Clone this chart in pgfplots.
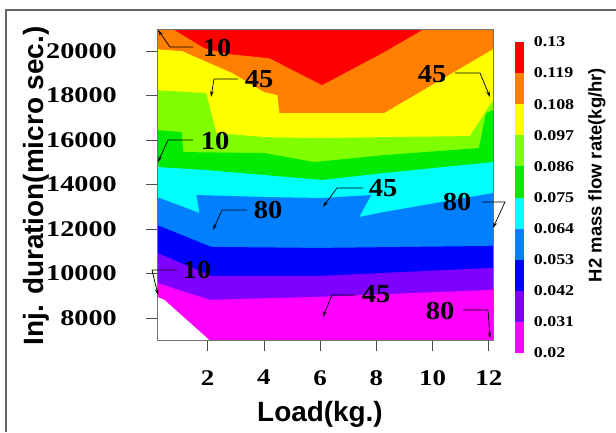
\documentclass[border=0pt]{standalone}
\usepackage{fontspec}
\setmainfont{Liberation Serif}
\setsansfont{Liberation Sans}
\usepackage{pgfplots}
\pgfplotsset{compat=1.18}
\usetikzlibrary{arrows.meta}

\definecolor{cRed}{RGB}{255,0,0}
\definecolor{cOrange}{RGB}{255,128,0}
\definecolor{cYellow}{RGB}{255,255,0}
\definecolor{cLime}{RGB}{128,255,0}
\definecolor{cGreen}{RGB}{0,235,0}
\definecolor{cCyan}{RGB}{0,255,255}
\definecolor{cAzure}{RGB}{0,128,255}
\definecolor{cBlue}{RGB}{0,0,255}
\definecolor{cViolet}{RGB}{128,0,255}
\definecolor{cMagenta}{RGB}{255,0,255}

\begin{document}
\begin{tikzpicture}[x=1bp,y=-1bp]
\path[use as bounding box] (0,0) rectangle (616,432);
\draw[line width=1.4bp, draw=black!60] (6,432) -- (6,10) -- (616,10);

\begin{axis}[
  at={(157bp,-340bp)}, anchor=south west,
  scale only axis, width=336bp, height=311bp,
  xmin=0.2, xmax=12.15, ymin=7000, ymax=21000,
  scaled ticks=false,
  axis on top,
  axis line style={draw=black!55, line width=0.6bp},
  tick align=outside, major tick length=11bp,
  tick style={draw=black!70, line width=0.6bp},
  xtick={2,4,6,8,10,12}, xticklabels={2,4,6,8,10,12},
  ytick={8000,10000,12000,14000,16000,18000,20000},
  yticklabels={8000,10000,12000,14000,16000,18000,20000},
  xtick pos=bottom, ytick pos=left,
  /pgf/number format/assume math mode=true,
  xticklabel style={font=\bfseries\fontsize{22.5}{22.5}\selectfont, xscale=1.2, anchor=north, inner sep=0pt, yshift=-19bp},
  yticklabel style={font=\bfseries\fontsize{22.5}{22.5}\selectfont, anchor=east, inner sep=0pt, xshift=-29bp, xscale=1.26},
]
% red band (top, 0.119-0.13): whole field
\addplot[fill=cRed, draw=none] coordinates {(0.2,7000) (12.15,7000) (12.15,21000) (0.2,21000)};
% below 0.119 : orange
\addplot[fill=cOrange, draw=none] coordinates {(0.2,21000) (0.75,21000) (1.88,20134) (2.77,19864) (4.19,19684) (6.07,18471) (8.28,19954) (9.70,21000) (12.15,21000) (12.15,7000) (0.2,7000)};
% below 0.108 : yellow
\addplot[fill=cYellow, draw=none] coordinates {(0.2,20089) (1.10,19999) (2.88,19010) (4.01,18156) (4.48,18022) (4.55,17213) (8.28,17213) (12.15,20089) (12.15,7000) (0.2,7000)};
% below 0.097 : lime
\addplot[fill=cLime, draw=none] coordinates {(0.2,18246) (1.95,18112) (2.31,16314) (4.01,16134) (5.97,16089) (8.28,16134) (11.33,16179) (12.15,17797) (12.15,7000) (0.2,7000)};
% below 0.086 : green
\addplot[fill=cGreen, draw=none] coordinates {(0.2,16449) (1.07,16359) (1.14,15460) (4.01,15415) (5.79,15011) (8.28,15325) (11.65,15640) (11.90,17213) (12.15,17348) (12.15,7000) (0.2,7000)};
% below 0.075 : cyan
\addplot[fill=cCyan, draw=none] coordinates {(0.2,14786) (1.95,14651) (4.01,14426) (6.07,14202) (8.28,14516) (12.15,15011) (12.15,7000) (0.2,7000)};
% below 0.064 : azure
\addplot[fill=cAzure, draw=none] coordinates {(0.2,13438) (1.71,12719) (1.60,13528) (4.01,13438) (6.07,13393) (7.82,13528) (7.39,12539) (8.28,12764) (12.15,13618) (12.15,7000) (0.2,7000)};
% below 0.053 : blue
\addplot[fill=cBlue, draw=none] coordinates {(0.2,12179) (2.13,11191) (5.97,11146) (12.15,11236) (12.15,7000) (0.2,7000)};
% below 0.042 : violet
\addplot[fill=cViolet, draw=none] coordinates {(0.2,10921) (2.13,9887) (5.97,9887) (12.15,10247) (12.15,7000) (0.2,7000)};
% below 0.031 : magenta
\addplot[fill=cMagenta, draw=none] coordinates {(0.2,9573) (2.06,8809) (5.97,8944) (12.15,9258) (12.15,7000) (0.2,7000)};
% below 0.02 : empty
\addplot[fill=white, draw=none] coordinates {(0.2,8944) (0.46,8809) (2.06,7000) (0.2,7000)};
\end{axis}

% colour key
\begin{axis}[
  at={(515bp,-353bp)}, anchor=south west,
  scale only axis, width=9bp, height=311bp,
  xmin=0, xmax=1, ymin=0.02, ymax=0.13,
  hide x axis, axis y line*=right,
  y axis line style={draw=none}, ytick style={draw=none},
  ytick={0.02,0.031,0.042,0.053,0.064,0.075,0.086,0.097,0.108,0.119,0.13},
  yticklabels={0.02,0.031,0.042,0.053,0.064,0.075,0.086,0.097,0.108,0.119,0.13},
  yticklabel style={font=\bfseries\fontsize{15}{15}\selectfont, xscale=1.2, anchor=west, inner sep=0pt, xshift=8bp},
  clip=false,
]
\addplot[fill=cMagenta, draw=none] coordinates {(0,0.02) (1,0.02) (1,0.031) (0,0.031)};
\addplot[fill=cViolet, draw=none] coordinates {(0,0.031) (1,0.031) (1,0.042) (0,0.042)};
\addplot[fill=cBlue, draw=none] coordinates {(0,0.042) (1,0.042) (1,0.053) (0,0.053)};
\addplot[fill=cAzure, draw=none] coordinates {(0,0.053) (1,0.053) (1,0.064) (0,0.064)};
\addplot[fill=cCyan, draw=none] coordinates {(0,0.064) (1,0.064) (1,0.075) (0,0.075)};
\addplot[fill=cGreen, draw=none] coordinates {(0,0.075) (1,0.075) (1,0.086) (0,0.086)};
\addplot[fill=cLime, draw=none] coordinates {(0,0.086) (1,0.086) (1,0.097) (0,0.097)};
\addplot[fill=cYellow, draw=none] coordinates {(0,0.097) (1,0.097) (1,0.108) (0,0.108)};
\addplot[fill=cOrange, draw=none] coordinates {(0,0.108) (1,0.108) (1,0.119) (0,0.119)};
\addplot[fill=cRed, draw=none] coordinates {(0,0.119) (1,0.119) (1,0.13) (0,0.13)};
\end{axis}

% axis titles
\node[font=\sffamily\bfseries\fontsize{28}{28}\selectfont, rotate=90, anchor=base, inner sep=0pt] at (43,186) {Inj. duration(micro sec.)};
\node[font=\sffamily\bfseries\fontsize{28}{28}\selectfont, anchor=base, inner sep=0pt] at (320,421) {Load(kg.)};
\node[font=\sffamily\bfseries\fontsize{18.5}{18.5}\selectfont, rotate=90, inner sep=0pt] at (597,175) {H2 mass flow rate(kg/hr)};

% contour labels with leaders
\tikzset{lbl/.style={font=\bfseries\fontsize{26}{26}\selectfont, xscale=1.1, inner sep=0pt},
         ldr/.style={line width=0.7bp, -{Stealth[length=6bp,width=3.5bp]}}}
\node[lbl] at (217,48) {10};
\draw[ldr] (193,47) -- (170,47) -- (158,30);
\node[lbl] at (259,79) {45};
\draw[ldr] (238,79) -- (214,79) -- (211,97);
\node[lbl] at (432,74) {45};
\draw[ldr] (455,73) -- (480,73) -- (490,97);
\node[lbl] at (215,141) {10};
\draw[ldr] (193,140) -- (168,140) -- (158,162);
\node[lbl] at (383,188) {45};
\draw[ldr] (363,188) -- (337,188) -- (323,207);
\node[lbl] at (268,210) {80};
\draw[ldr] (247,210) -- (222,210) -- (213,230);
\node[lbl] at (457,202) {80};
\draw[ldr] (482,202) -- (505,202) -- (493,228);
\node[lbl] at (197,270) {10};
\draw[ldr] (177,270) -- (152,270) -- (158,295);
\node[lbl] at (376,294) {45};
\draw[ldr] (355,295) -- (332,295) -- (323,317);
\node[lbl] at (440,311) {80};
\draw[ldr] (463,310) -- (488,310) -- (490,338);
\end{tikzpicture}
\end{document}
